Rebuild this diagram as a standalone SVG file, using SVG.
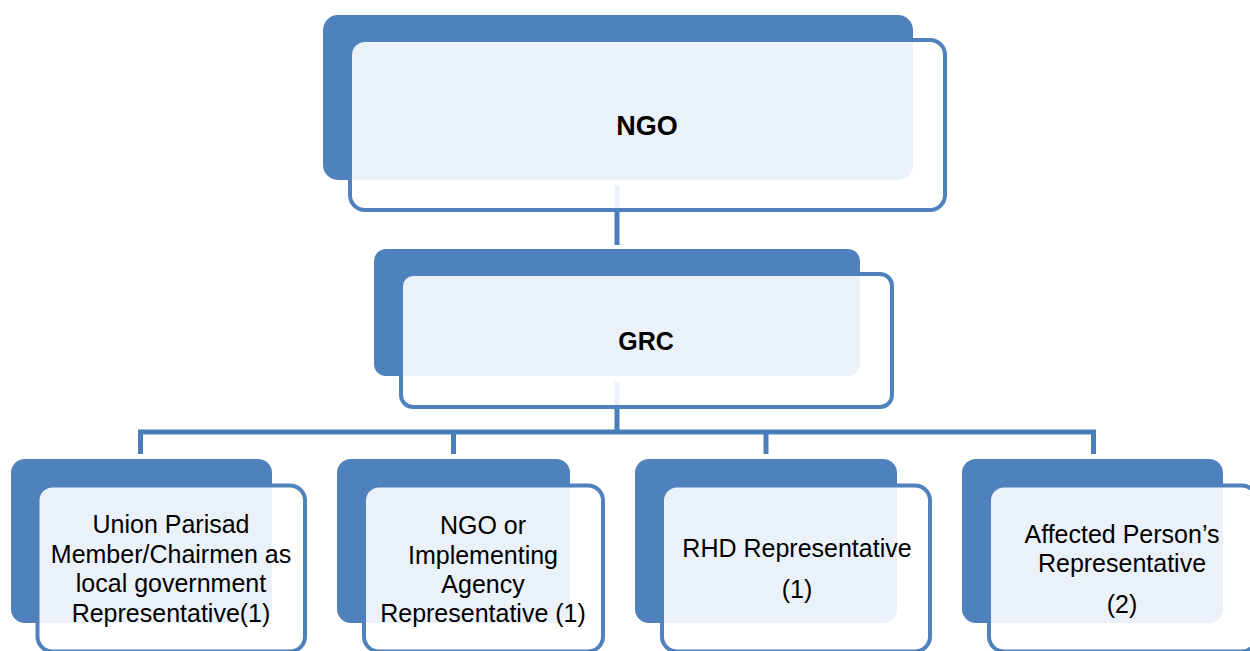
<svg xmlns="http://www.w3.org/2000/svg" width="1250" height="651" viewBox="0 0 1250 651">
  <style>
    .back { fill: #4F81BD; }
    .front { fill: #FFFFFF; fill-opacity: 0.89; stroke: #4F81BD; stroke-width: 4; }
    .conn { fill: none; stroke: #4A7EBB; stroke-width: 5; }
    .title { font-family: "Liberation Sans", Arial, sans-serif; font-weight: bold; fill: #000; text-anchor: middle; }
    .label { font-family: "Liberation Sans", Arial, sans-serif; font-size: 25px; fill: #000; text-anchor: middle; }
  </style>

  <!-- connectors, drawn beneath the boxes -->
  <g id="connectors">
    <path class="conn" d="M617 185 V245"/>
    <path class="conn" d="M617 382 V432"/>
    <path class="conn" d="M140.5 454 V432 H1093.5 V454"/>
    <path class="conn" d="M453.5 432 V454"/>
    <path class="conn" d="M766 432 V454"/>
  </g>

  <g id="node-ngo">
    <rect class="back" x="323" y="15" width="590" height="165" rx="15"/>
    <rect class="front" x="350" y="40" width="595" height="170" rx="15"/>
    <text class="title" x="647" y="135" font-size="27">NGO</text>
  </g>

  <g id="node-grc">
    <rect class="back" x="374" y="249" width="486" height="127" rx="12"/>
    <rect class="front" x="401" y="274" width="491" height="133" rx="12"/>
    <text class="title" x="646" y="350" font-size="25">GRC</text>
  </g>

  <g id="node-union-parisad">
    <rect class="back" x="11" y="459" width="261" height="164" rx="14"/>
    <rect class="front" x="37.5" y="485.5" width="267.5" height="166" rx="15"/>
    <text class="label" x="171" y="533">Union Parisad</text>
    <text class="label" x="171" y="563">Member/Chairmen as</text>
    <text class="label" x="171" y="592">local government</text>
    <text class="label" x="171" y="622">Representative(1)</text>
  </g>

  <g id="node-implementing-agency">
    <rect class="back" x="337" y="459" width="233" height="164" rx="14"/>
    <rect class="front" x="364" y="485.5" width="239" height="166" rx="15"/>
    <text class="label" x="483" y="534">NGO or</text>
    <text class="label" x="483" y="564">Implementing</text>
    <text class="label" x="483" y="593">Agency</text>
    <text class="label" x="483" y="622">Representative (1)</text>
  </g>

  <g id="node-rhd">
    <rect class="back" x="635" y="459" width="262" height="164" rx="14"/>
    <rect class="front" x="662" y="485.5" width="268" height="166" rx="15"/>
    <text class="label" x="797" y="557">RHD Representative</text>
    <text class="label" x="797" y="598">(1)</text>
  </g>

  <g id="node-affected-persons">
    <rect class="back" x="962" y="459" width="261" height="164" rx="14"/>
    <rect class="front" x="989" y="485.5" width="268" height="166" rx="15"/>
    <text class="label" x="1122" y="543">Affected Person’s</text>
    <text class="label" x="1122" y="572">Representative</text>
    <text class="label" x="1122" y="613">(2)</text>
  </g>
</svg>
